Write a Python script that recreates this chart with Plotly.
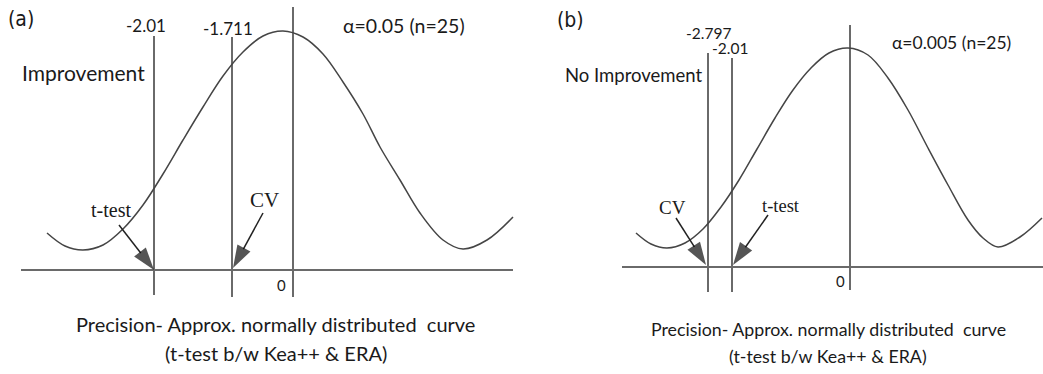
import plotly.graph_objects as go

# ---------------------------------------------------------------
# Data: two schematic t-distribution sketches, (a) and (b)
# Sketch frame: x grows to the right, y grows downward (0..374)
# ---------------------------------------------------------------

# Panel (a): alpha = 0.05, n = 25
a_curve_x = [47, 65, 83, 103, 123, 143, 163, 183, 203, 223, 243, 263, 283,
             303, 323, 343, 363, 380, 400, 420, 443, 463, 487, 513]
a_curve_y = [233, 246, 250, 245, 229, 205, 174, 140, 107, 76, 52, 36, 31,
             37, 54, 82, 114, 147, 180, 213, 240, 249, 240, 217]
a_mark_labels = ["-2.01", "-1.711", "0"]
a_mark_x = [154, 232, 293]
a_mark_top = [36, 37, 7]
a_mark_bottom = [295, 297, 297]

# Panel (b): alpha = 0.005, n = 25
b_curve_x = [636, 651, 667, 685, 703, 721, 739, 757, 775, 793, 811, 829, 848,
             868, 888, 908, 928, 948, 968, 983, 998, 1020, 1042]
b_curve_y = [233, 244, 248, 243, 229, 207, 180, 149, 118, 90, 68, 53, 48,
             55, 78, 110, 148, 185, 220, 238, 247, 237, 218]
b_mark_labels = ["-2.797", "-2.01", "0"]
b_mark_x = [708, 732, 850]
b_mark_top = [53, 58, 25]
b_mark_bottom = [292, 292, 290]

caption_line1 = "Precision- Approx. normally distributed  curve"
caption_line2 = "(t-test b/w Kea++ & ERA)"

# ---------------------------------------------------------------
LINE_GREY = "#6a6a6a"
CURVE_GREY = "#454545"
TEXT = "#1a1a1a"
SANS = "Lato, 'Open Sans', sans-serif"
SERIF = "'Liberation Serif', 'DejaVu Serif', serif"
NARROW = "'Liberation Sans Narrow', 'DejaVu Sans Condensed', 'Roboto', sans-serif"

fig = go.Figure()


def add_verticals(xs, tops, bottoms):
    vx, vy = [], []
    for x, t, b in zip(xs, tops, bottoms):
        vx += [x, x, None]
        vy += [t, b, None]
    fig.add_trace(go.Scatter(x=vx, y=vy, mode="lines",
                             line=dict(color=LINE_GREY, width=2),
                             hoverinfo="skip", showlegend=False))


def add_baseline(x0, x1, y):
    fig.add_trace(go.Scatter(x=[x0, x1], y=[y, y], mode="lines",
                             line=dict(color=LINE_GREY, width=2),
                             hoverinfo="skip", showlegend=False))


def add_curve(xs, ys):
    fig.add_trace(go.Scatter(x=xs, y=ys, mode="lines",
                             line=dict(color=CURVE_GREY, width=1.5, shape="spline", smoothing=1.0),
                             hoverinfo="skip", showlegend=False))


def add_arrow(tail, tip):
    fig.add_trace(go.Scatter(x=[tail[0], tip[0]], y=[tail[1], tip[1]],
                             mode="lines+markers",
                             line=dict(color="#222222", width=1.5),
                             marker=dict(symbol=["circle", "arrow"], size=[0, 24],
                                         angleref="previous", color="#0d0d0d",
                                         line=dict(width=0)),
                             hoverinfo="skip", showlegend=False))


def label(text, x, y, size, font=SANS, xanchor="center"):
    fig.add_annotation(x=x, y=y, xref="x", yref="y", text=text, showarrow=False,
                       xanchor=xanchor, yanchor="middle",
                       font=dict(family=font, size=size, color=TEXT))


# ----- panel (a) -----
add_baseline(21, 513, 270)
add_verticals(a_mark_x, a_mark_top, a_mark_bottom)
add_curve(a_curve_x, a_curve_y)
add_arrow((119, 225), (154, 270))
add_arrow((263, 213), (233, 268))

label("(a)", 21, 19, 21, font=NARROW)
label(a_mark_labels[0], 146, 25, 17)
label(a_mark_labels[1], 228, 28, 17)
label(a_mark_labels[2], 281, 285, 15)
label("\u03b1=0.05 (n=25)", 404, 25, 19.5)
label("Improvement", 20, 72, 21, xanchor="left")
label("t-test", 111, 210, 20, font=SERIF)
label("CV", 264, 200, 21, font=SERIF)
label(caption_line1, 275, 324, 20)
label(caption_line2, 276, 353, 20)

# ----- panel (b) -----
add_baseline(622, 1043, 267)
add_verticals(b_mark_x, b_mark_top, b_mark_bottom)
add_curve(b_curve_x, b_curve_y)
add_arrow((676, 218), (706, 265))
add_arrow((768, 215), (733, 265))

label("(b)", 570, 20, 21, font=NARROW)
label(b_mark_labels[0], 708, 33, 15.5)
label(b_mark_labels[1], 730, 48, 15.5)
label(b_mark_labels[2], 840, 281, 15)
label("\u03b1=0.005 (n=25)", 951, 42, 17.5)
label("No Improvement", 563, 75, 18.5, xanchor="left")
label("CV", 672, 207, 19, font=SERIF)
label("t-test", 781, 206, 18.5, font=SERIF)
label(caption_line1, 828, 329, 17.8)
label(caption_line2, 828, 356, 17.8)

fig.update_layout(
    width=1043, height=374,
    margin=dict(l=0, r=0, t=0, b=0),
    paper_bgcolor="white", plot_bgcolor="white",
    xaxis=dict(range=[0, 1043], visible=False, fixedrange=True),
    yaxis=dict(range=[374, 0], visible=False, fixedrange=True),
    showlegend=False,
)

fig.write_html("out.html")
